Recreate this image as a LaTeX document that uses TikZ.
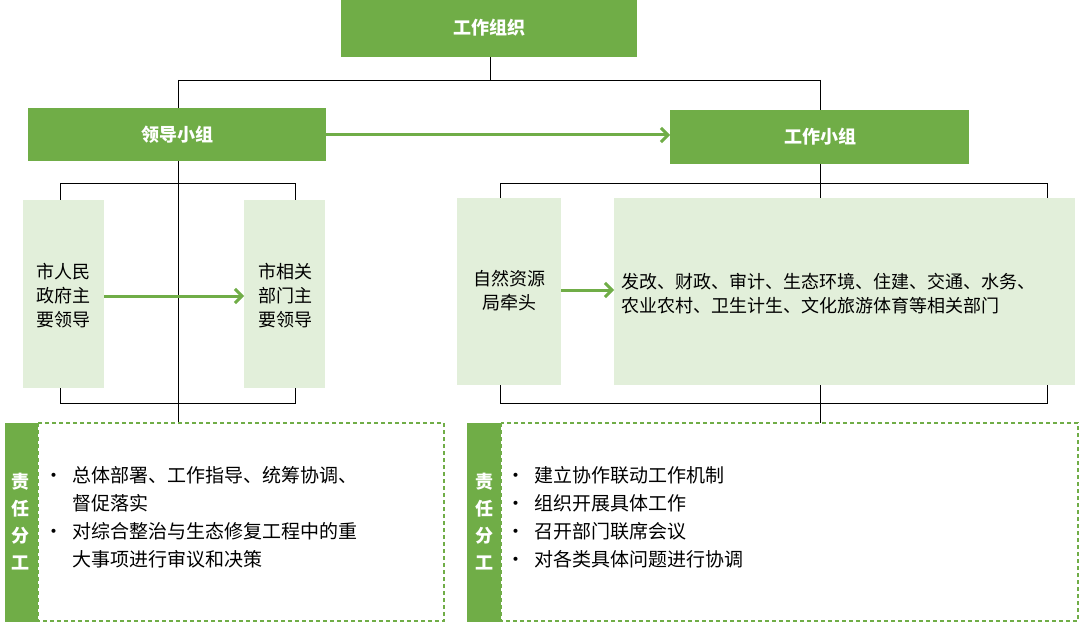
\documentclass[tikz,border=0pt]{standalone}
\usepackage{fontspec}
\setmainfont{Noto Sans CJK SC}
\usetikzlibrary{arrows.meta}
\definecolor{gr}{HTML}{70AD47}
\definecolor{lg}{HTML}{E2EFDA}
\begin{document}
\begin{tikzpicture}[x=1pt,y=-1pt,
  hd/.style={fill=gr,text=white,font=\fontsize{18}{24}\selectfont\bfseries},
  tx/.style={font=\fontsize{18}{24}\selectfont,align=left},
  tl/.style={font=\fontsize{19}{28}\selectfont,align=left},
  ln/.style={draw=black,line width=0.8pt},
  ga/.style={draw=gr,line width=3pt,-{Straight Barb[length=7pt,width=14pt]}},
  db/.style={draw=gr,dashed,line width=1.4pt,dash pattern=on 4pt off 3pt}]
\useasboundingbox (0,0) rectangle (1080,623);
% top
\fill[gr] (341,0) rectangle (637,57);
\node[hd] (top) at (489,28) {工作组织};
\draw[ln] (490,57) -- (490,80) (178,80) -- (820,80) (178,80) -- (178,108) (820,80) -- (820,110);
\fill[gr] (28,108) rectangle (326,161);
\node[hd] (ld) at (177,135) {领导小组};
\fill[gr] (670,110) rectangle (969,164);
\node[hd] (wk) at (820,137) {工作小组};
\draw[ga] (326,135) -- (670,135);
% left group
\draw[ln] (178,161) -- (178,423);
\draw[ln] (60,200) -- (60,183) -- (295,183) -- (295,200);
\draw[ln] (60,388) -- (60,403) -- (295,403) -- (295,388);
\fill[lg] (23,200) rectangle (104,388);
\node[tx,align=center] (a1) at (63,296) {市人民\\政府主\\要领导};
\fill[lg] (244,200) rectangle (325,388);
\node[tx,align=center] (a2) at (285,296) {市相关\\部门主\\要领导};
\draw[ga] (104,296) -- (244,296);
% right group
\draw[ln] (820,164) -- (820,423);
\draw[ln] (500,198) -- (500,183) -- (1047,183) -- (1047,198);
\draw[ln] (500,385) -- (500,403) -- (1047,403) -- (1047,385);
\fill[lg] (457,198) rectangle (561,385);
\node[tx,align=center] (b1) at (509,291) {自然资源\\局牵头};
\fill[lg] (614,198) rectangle (1075,385);
\node[tx,anchor=west,inner sep=0pt] (b2) at (621,294) {发改、财政、审计、生态环境、住建、交通、水务、\\农业农村、卫生计生、文化旅游体育等相关部门};
\draw[ga] (561,290) -- (614,290);
% bottom
\fill[gr] (5,423) rectangle (38,622);
\node[hd,align=center,font=\fontsize{18}{27}\selectfont\bfseries] (s1) at (21,522) {责\\任\\分\\工};
\draw[db] (38,423) rectangle (444,621);
\node[tl,anchor=north west,inner sep=0pt] (l1) at (44,466) {•\enspace 总体部署、工作指导、统筹协调、\\\phantom{•\enspace }督促落实\\•\enspace 对综合整治与生态修复工程中的重\\\phantom{•\enspace }大事项进行审议和决策};
\fill[gr] (467,423) rectangle (501,622);
\node[hd,align=center,font=\fontsize{18}{27}\selectfont\bfseries] (s2) at (484,522) {责\\任\\分\\工};
\draw[db] (501,423) rectangle (1078,621);
\node[tl,anchor=north west,inner sep=0pt] (r1) at (506,466) {•\enspace 建立协作联动工作机制\\•\enspace 组织开展具体工作\\•\enspace 召开部门联席会议\\•\enspace 对各类具体问题进行协调};
\end{tikzpicture}
\end{document}
